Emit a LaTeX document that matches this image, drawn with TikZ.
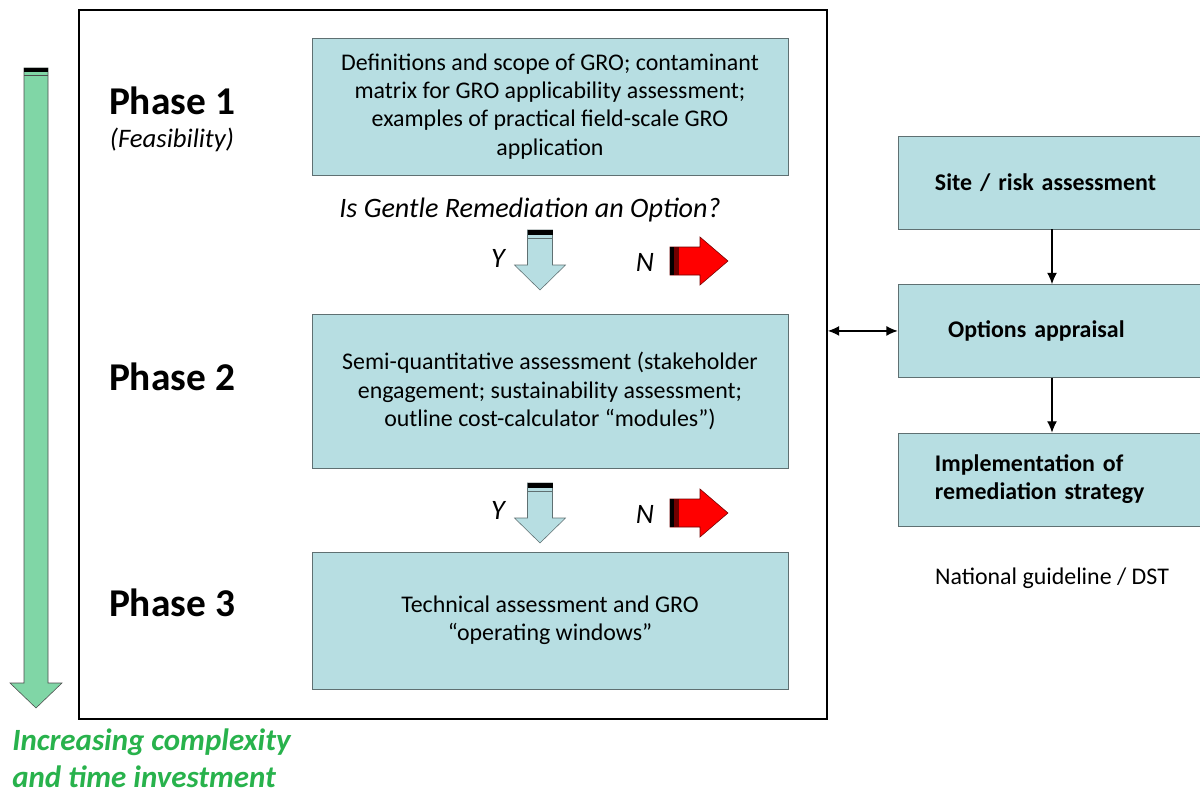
\documentclass[tikz,border=0pt]{standalone}
\usepackage{fontspec}
\setmainfont{Carlito}
\usetikzlibrary{positioning, arrows.meta}

\definecolor{boxfill}{RGB}{183,222,226}
\definecolor{boxline}{RGB}{95,112,114}
\definecolor{arrgreen}{RGB}{128,214,166}
\definecolor{txtgreen}{RGB}{40,178,76}
\definecolor{darkred}{RGB}{110,0,0}

\tikzset{
  ydown/.pic={
    \filldraw[fill=boxfill, draw=boxline] (-12.5,0) -- (12.5,0) -- (12.5,35) -- (25.5,35)
      -- (0,60) -- (-25.5,35) -- (-12.5,35) -- cycle;
    \fill[black] (-12.5,0) rectangle (12.5,5);
    \draw[boxline] (-12.5,8.5) -- (12.5,8.5);
  },
  nright/.pic={
    \filldraw[fill=red, draw=darkred] (0,-14) -- (30,-14) -- (30,-24) -- (58,0)
      -- (30,24) -- (30,14) -- (0,14) -- cycle;
    \fill[black] (0,-14) rectangle (4,14);
    \fill[darkred] (4,-14) rectangle (9,14);
  }
}

\begin{document}
\begin{tikzpicture}[x=0.025cm, y=-0.025cm, node distance=3.71cm, on grid,
    box/.style={draw=boxline, fill=boxfill, align=center, inner sep=0pt,
      minimum width=11.9cm, font=\fontsize{17}{20}\selectfont},
    rbox/.style={draw=boxline, fill=boxfill, align=left, inner xsep=0.925cm,
      text width=5.85cm, minimum height=2.325cm, font=\fontsize{17}{20}\selectfont\bfseries},
    phase/.style={font=\fontsize{28}{32}\selectfont\bfseries},
    yn/.style={font=\fontsize{20}{24}\selectfont\itshape},
    tip/.style={{Latex[length=8pt,width=7pt]}-{Latex[length=8pt,width=7pt]}}]
  \useasboundingbox (0,0) rectangle (1200,794);

  % green arrow on the left
  \filldraw[fill=arrgreen, draw=black!70] (24,68) -- (48,68) -- (48,683) -- (62,683)
    -- (36,708) -- (10,683) -- (24,683) -- cycle;
  \fill[black] (24,68) rectangle (48,72);
  \draw[black!70] (24,75) -- (48,75);
  \node[font=\fontsize{22}{26}\selectfont\bfseries\itshape, text=txtgreen, align=left,
    anchor=west, inner sep=0pt] (gtxt) at (12,758) {Increasing complexity\\and time investment};

  \node[draw, line width=1.1pt, minimum width=18.7cm, minimum height=17.725cm] (frame) at (453,364.5) {};

  \node[phase] (ph1) at (172,101) {Phase 1};
  \node[yn, font=\fontsize{19}{22}\selectfont\itshape] (feas) [below=0.975cm of ph1] {(Feasibility)};
  \node[phase] (ph2) at (172,377) {Phase 2};
  \node[phase] (ph3) at (172,603) {Phase 3};

  \node[box, minimum height=3.43cm] (scope) at (550,106.5)
    {Definitions and scope of GRO; contaminant\\matrix for GRO applicability assessment;\\examples of practical field-scale GRO\\application};
  \node[yn] (ques) at (530,210) {Is Gentle Remediation an Option?};
  \node[yn] (y1) at (498,258) {Y};
  \node[yn] (n1) at (645,262) {N};
  \pic at (540,230) {ydown};
  \pic at (670,261) {nright};

  \node[box, minimum height=3.85cm] (semi) at (550,391)
    {Semi-quantitative assessment (stakeholder\\engagement; sustainability assessment;\\outline cost-calculator “modules”)};
  \node[yn] (y2) at (498,510) {Y};
  \node[yn] (n2) at (645,514) {N};
  \pic at (540,483) {ydown};
  \pic at (670,513) {nright};

  \node[box, minimum height=3.43cm] (tech) at (550,620.5)
    {Technical assessment and GRO\\“operating windows”};

  % national guideline
  \node[rbox] (site) at (1052,182.5) {Site / risk assessment};
  \node[rbox] (opt) [below=of site] {\hspace*{0.33cm}Options appraisal};
  \node[rbox] (impl) [below=of opt] {Implementation of\\remediation strategy};
  \node[font=\fontsize{17}{20}\selectfont] (dst) [below=2.46cm of impl] {National guideline / DST};

  \path[-{Latex[length=8pt,width=7pt]}, thick]
    (site) edge (opt)
    (opt) edge (impl);
  \draw[tip, thick] (frame.east |- opt.west) -- (opt.west);
\end{tikzpicture}
\end{document}
